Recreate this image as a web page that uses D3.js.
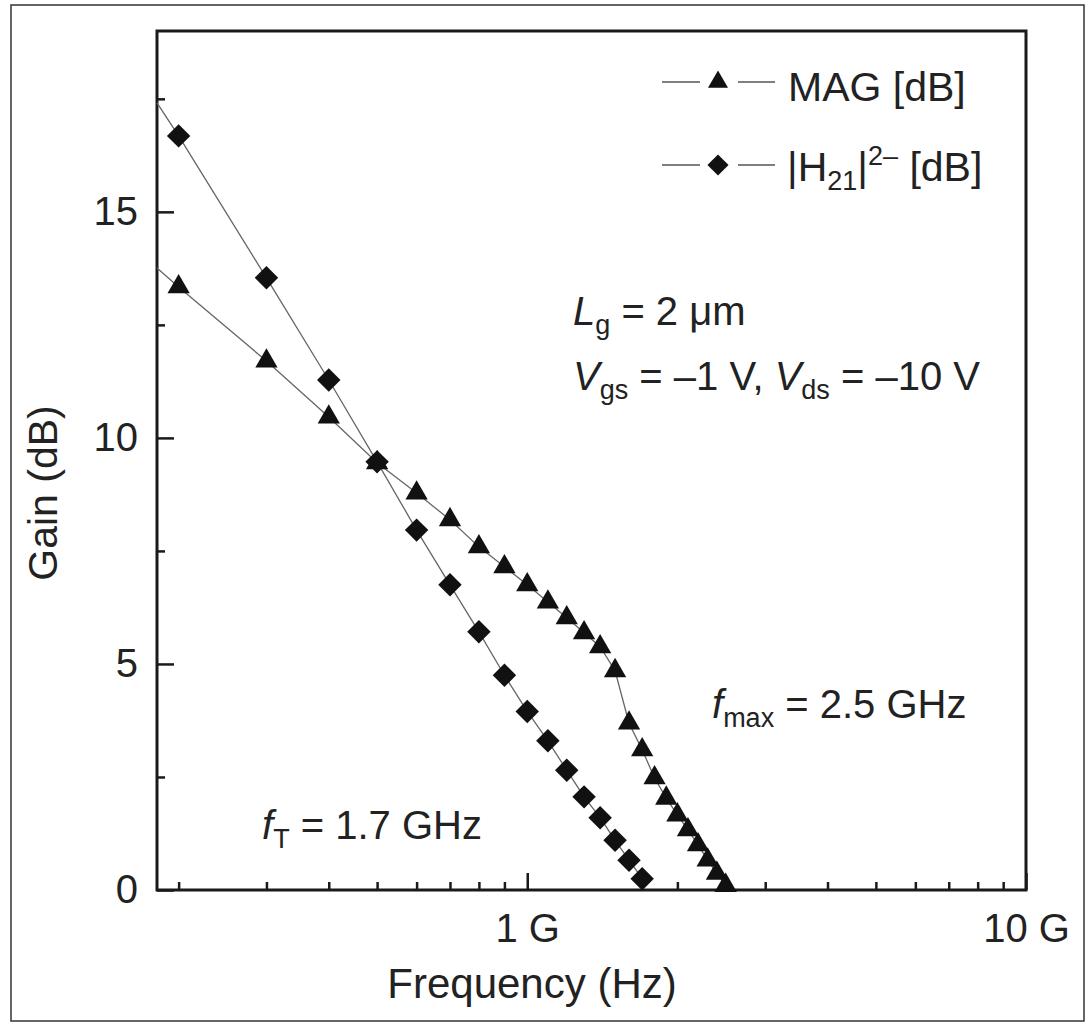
<!DOCTYPE html>
<html>
<head>
<meta charset="utf-8">
<script src="https://d3js.org/d3.v7.min.js"></script>
<style>
    body { margin: 0; background: #fff; }
    text { font-family: "Liberation Sans", Arial, sans-serif; fill: #222; }
</style>
</head>
<body>
<script>
//frequency points (Hz) and gains (dB)
var magFreq = [0.2e9, 0.3e9, 0.4e9, 0.5e9, 0.6e9, 0.7e9, 0.8e9, 0.9e9, 1.0e9, 1.1e9, 1.2e9, 1.3e9,
               1.4e9, 1.5e9, 1.6e9, 1.7e9, 1.8e9, 1.9e9, 2.0e9, 2.1e9, 2.2e9, 2.3e9, 2.4e9, 2.5e9];
var magGain = [13.34, 11.70, 10.46, 9.45, 8.78, 8.19, 7.59, 7.15, 6.75, 6.37, 6.02, 5.69,
               5.38, 4.85, 3.69, 3.10, 2.48, 2.03, 1.66, 1.33, 1.00, 0.66, 0.37, 0.10];

var h21Freq = [0.2e9, 0.3e9, 0.4e9, 0.5e9, 0.6e9, 0.7e9, 0.8e9, 0.9e9, 1.0e9, 1.1e9, 1.2e9, 1.3e9,
               1.4e9, 1.5e9, 1.6e9, 1.7e9];
var h21Gain = [16.68, 13.54, 11.28, 9.47, 7.96, 6.75, 5.71, 4.75, 3.95, 3.30, 2.65, 2.06,
               1.60, 1.10, 0.66, 0.25];

//where each curve meets the left frame (line only, no marker)
var edgeFreq = 1.81e8;
var magEdge = 13.76;
var h21Edge = 17.41;

//axis ticks
var xMajor = [1e9, 1e10];
var xMajorLabels = ["1 G", "10 G"];
var xMinor = [2e8, 3e8, 4e8, 5e8, 6e8, 7e8, 8e8, 9e8, 2e9, 3e9, 4e9, 5e9, 6e9, 7e9, 8e9, 9e9];
var yMajor = [0, 5, 10, 15];
var yMinor = [2.5, 7.5, 12.5, 17.5];

window.onload = drawChart();

function drawChart(){
    var width = 1091,
        height = 1027,
        left = 157,
        right = 1026,
        top = 31,
        bottom = 890;

    var svg = d3.select("body")
        .append("svg")
        .attr("width", width)
        .attr("height", height);

    //outer border of the figure
    svg.append("rect")
        .attr("x", 11)
        .attr("y", 5)
        .attr("width", 1073)
        .attr("height", 1016)
        .attr("fill", "none")
        .attr("stroke", "#333")
        .attr("stroke-width", 1.5);

    var x = d3.scaleLog()
        .domain([edgeFreq, 1e10])
        .range([left, right]);

    var y = d3.scaleLinear()
        .domain([0, 19])
        .range([bottom, top]);

    //ticks point inward, frame drawn separately
    var xAxisMajor = d3.axisBottom(x)
        .tickValues(xMajor)
        .tickSize(-17)
        .tickPadding(24)
        .tickFormat(function(d, i){ return xMajorLabels[i]; });

    var xAxisMinor = d3.axisBottom(x)
        .tickValues(xMinor)
        .tickSize(-8)
        .tickFormat("");

    var yAxisMajor = d3.axisLeft(y)
        .tickValues(yMajor)
        .tickSize(-17)
        .tickPadding(19)
        .tickFormat(d3.format("d"));

    var yAxisMinor = d3.axisLeft(y)
        .tickValues(yMinor)
        .tickSize(-8)
        .tickFormat("");

    [[xAxisMajor, "x"], [xAxisMinor, "x"], [yAxisMajor, "y"], [yAxisMinor, "y"]].forEach(function(a){
        var g = svg.append("g")
            .attr("transform", a[1] == "x" ? "translate(0," + bottom + ")" : "translate(" + left + ",0)")
            .call(a[0]);
        g.select(".domain").remove();
        g.selectAll(".tick line").attr("stroke", "#1a1a1a").attr("stroke-width", 2.5);
        g.selectAll(".tick text")
            .style("font-family", "'Liberation Sans', Arial, sans-serif")
            .style("font-size", "40px")
            .attr("fill", "#222");
    });

    //plot frame
    svg.append("rect")
        .attr("x", left)
        .attr("y", top)
        .attr("width", right - left)
        .attr("height", bottom - top)
        .attr("fill", "none")
        .attr("stroke", "#1a1a1a")
        .attr("stroke-width", 3);

    var line = d3.line()
        .x(function(d){ return x(d[0]); })
        .y(function(d){ return y(d[1]); });

    var magPts = d3.zip(magFreq, magGain),
        h21Pts = d3.zip(h21Freq, h21Gain);

    svg.append("path")
        .datum([[edgeFreq, magEdge]].concat(magPts))
        .attr("d", line)
        .attr("fill", "none")
        .attr("stroke", "#666")
        .attr("stroke-width", 1.3);

    svg.append("path")
        .datum([[edgeFreq, h21Edge]].concat(h21Pts))
        .attr("d", line)
        .attr("fill", "none")
        .attr("stroke", "#666")
        .attr("stroke-width", 1.3);

    var tri = d3.symbol().type(d3.symbolTriangle).size(215),
        dia = d3.symbol().type(d3.symbolSquare).size(275);

    svg.selectAll(".mag")
        .data(magPts)
        .enter()
        .append("path")
        .attr("class", "mag")
        .attr("d", tri)
        .attr("transform", function(d){ return "translate(" + x(d[0]) + "," + y(d[1]) + ")"; })
        .attr("fill", "#111");

    svg.selectAll(".h21")
        .data(h21Pts)
        .enter()
        .append("path")
        .attr("class", "h21")
        .attr("d", dia)
        .attr("transform", function(d){ return "translate(" + x(d[0]) + "," + y(d[1]) + ") rotate(45)"; })
        .attr("fill", "#111");

    //legend
    var legend = svg.append("g");
    [[82, tri, 0], [165, dia, 45]].forEach(function(r){
        legend.append("line").attr("x1", 662).attr("x2", 700).attr("y1", r[0]).attr("y2", r[0])
            .attr("stroke", "#555").attr("stroke-width", 1.3);
        legend.append("line").attr("x1", 738).attr("x2", 775).attr("y1", r[0]).attr("y2", r[0])
            .attr("stroke", "#555").attr("stroke-width", 1.3);
        legend.append("path").attr("d", r[1])
            .attr("transform", "translate(718," + r[0] + ") rotate(" + r[2] + ") scale(0.9)")
            .attr("fill", "#111");
    });

    legend.append("text")
        .attr("x", 788).attr("y", 101)
        .style("font-size", "41px")
        .text("MAG [dB]");

    var h = legend.append("text")
        .attr("x", 787).attr("y", 181)
        .style("font-size", "41px");
    h.append("tspan").text("|H");
    h.append("tspan").attr("dy", 9).style("font-size", "27px").text("21");
    h.append("tspan").attr("dy", -9).text("|");
    h.append("tspan").attr("dy", -16).style("font-size", "27px").text("2–");
    h.append("tspan").attr("dy", 16).text(" [dB]");

    //annotations with italic symbol and subscript
    function note(px, py, parts){
        var t = svg.append("text")
            .attr("x", px).attr("y", py)
            .style("font-size", "40px");
        parts.forEach(function(p){
            var s = t.append("tspan").text(p[0]);
            if (p[1] == "i") s.style("font-style", "italic");
            if (p[1] == "sub") s.attr("dy", 9).style("font-size", "27px");
            if (p[1] == "back") s.attr("dy", -9);
        });
    }

    note(573, 325, [["L", "i"], ["g", "sub"], [" = 2 μm", "back"]]);
    note(573, 390, [["V", "i"], ["gs", "sub"], [" = –1 V, ", "back"], ["V", "i"], ["ds", "sub"], [" = –10 V", "back"]]);
    note(712, 718, [["f", "i"], ["max", "sub"], [" = 2.5 GHz", "back"]]);
    note(262, 839, [["f", "i"], ["T", "sub"], [" = 1.7 GHz", "back"]]);

    //axis titles
    svg.append("text")
        .attr("x", 532)
        .attr("y", 998)
        .attr("text-anchor", "middle")
        .style("font-size", "42px")
        .text("Frequency (Hz)");

    svg.append("text")
        .attr("transform", "translate(57,493) rotate(-90)")
        .attr("text-anchor", "middle")
        .style("font-size", "41px")
        .text("Gain (dB)");
};
</script>
</body>
</html>
